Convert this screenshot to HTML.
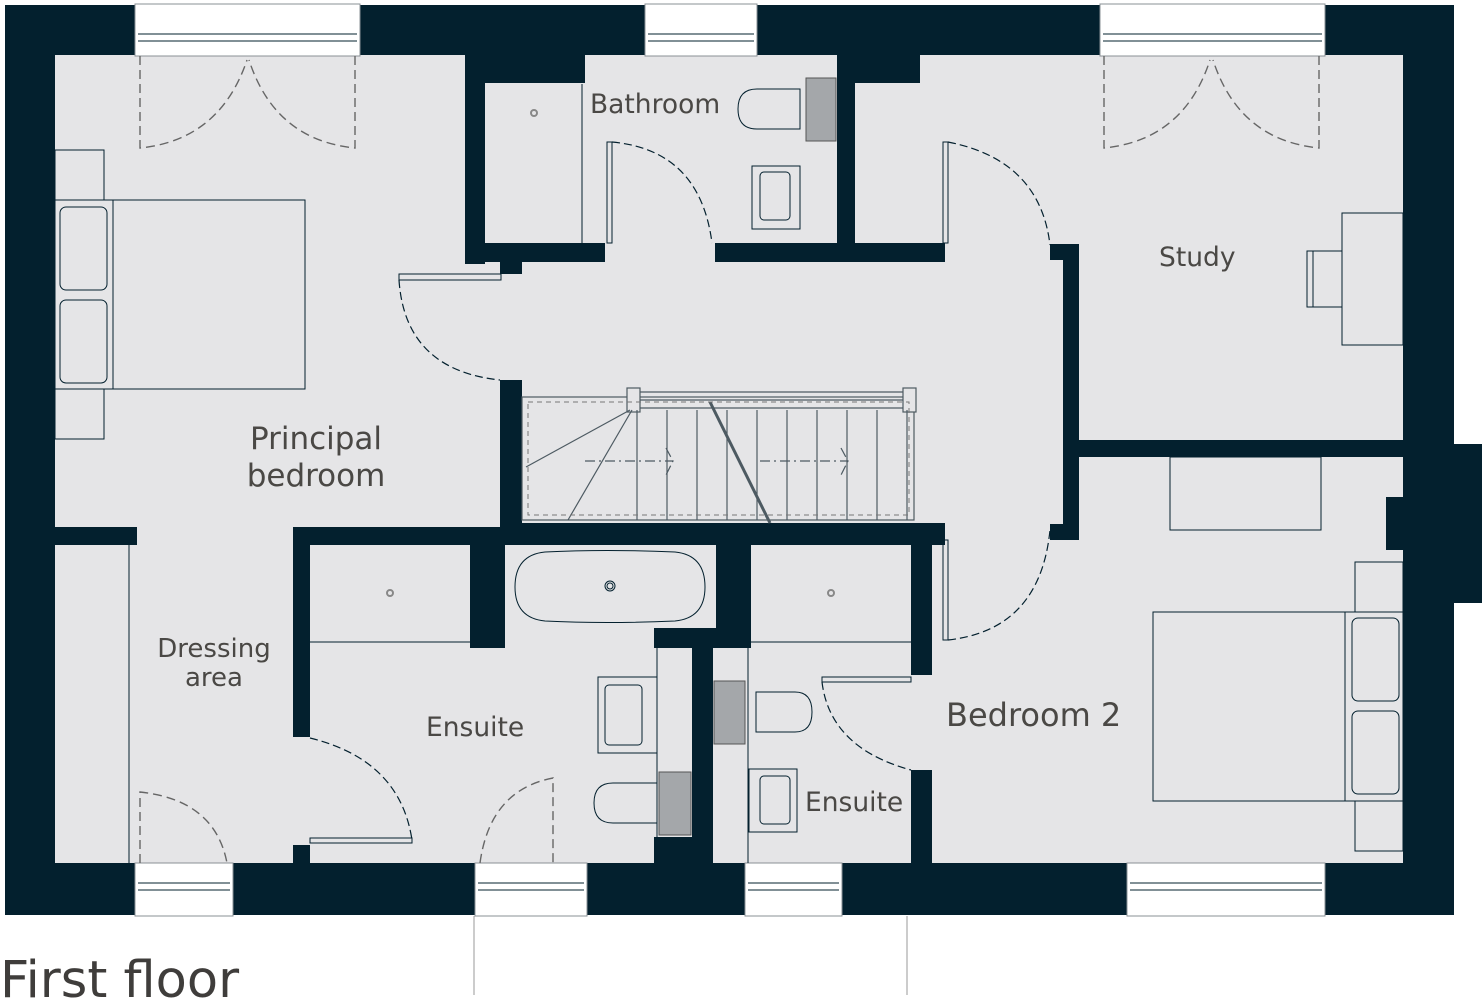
<!DOCTYPE html>
<html><head><meta charset="utf-8"><style>
html,body{margin:0;padding:0;background:#fff;}
svg{display:block}
text{font-family:"DejaVu Sans","Liberation Sans",sans-serif;fill:#4a4845;}
</style></head><body>
<svg width="1484" height="1002" viewBox="0 0 1484 1002" xmlns="http://www.w3.org/2000/svg">
<rect x="5" y="5" width="1449" height="910" fill="#03202e"/>
<rect x="1440" y="444" width="42" height="159" fill="#03202e"/>
<rect x="55" y="55" width="1348" height="808" fill="#e5e5e7"/>
<g fill="#03202e">
<rect x="465" y="55" width="120" height="28"/>
<rect x="465" y="55" width="20" height="209"/>
<rect x="465" y="243" width="140" height="19"/>
<rect x="500" y="262" width="22" height="12"/>
<rect x="837" y="55" width="18" height="207"/>
<rect x="855" y="55" width="65" height="28"/>
<rect x="715" y="243" width="230" height="19"/>
<rect x="1063" y="244" width="16" height="296"/>
<rect x="1050" y="244" width="14" height="16"/>
<rect x="1050" y="524" width="14" height="16"/>
<rect x="1079" y="440" width="324" height="17"/>
<rect x="1386" y="497" width="17" height="53"/>
<rect x="500" y="380" width="22" height="145"/>
<rect x="500" y="523" width="445" height="22"/>
<rect x="293" y="527" width="207" height="18"/>
<rect x="55" y="527" width="82" height="18"/>
<rect x="293" y="527" width="17" height="210"/>
<rect x="293" y="845" width="17" height="18"/>
<rect x="470" y="545" width="35" height="103"/>
<rect x="654" y="628" width="97" height="20"/>
<rect x="716" y="545" width="35" height="103"/>
<rect x="692" y="648" width="21" height="215"/>
<rect x="654" y="837" width="38" height="26"/>
<rect x="911" y="545" width="21" height="130"/>
<rect x="911" y="770" width="21" height="93"/>
</g>
<g fill="#fff" stroke="#8a9096" stroke-width="1">
<rect x="135" y="4" width="225" height="52"/>
<rect x="645" y="4" width="112" height="52"/>
<rect x="1100" y="4" width="225" height="52"/>
<rect x="135" y="863" width="98" height="53"/>
<rect x="475" y="863" width="112" height="53"/>
<rect x="745" y="863" width="97" height="53"/>
<rect x="1127" y="863" width="198" height="53"/>
</g>
<g stroke="#03202e" stroke-width="1" fill="none">
<line x1="138" y1="34" x2="357" y2="34"/><line x1="138" y1="41" x2="357" y2="41"/>
<line x1="648" y1="34" x2="754" y2="34"/><line x1="648" y1="41" x2="754" y2="41"/>
<line x1="1103" y1="34" x2="1322" y2="34"/><line x1="1103" y1="41" x2="1322" y2="41"/>
<line x1="138" y1="883" x2="230" y2="883"/><line x1="138" y1="890" x2="230" y2="890"/>
<line x1="478" y1="883" x2="584" y2="883"/><line x1="478" y1="890" x2="584" y2="890"/>
<line x1="748" y1="883" x2="839" y2="883"/><line x1="748" y1="890" x2="839" y2="890"/>
<line x1="1130" y1="883" x2="1322" y2="883"/><line x1="1130" y1="890" x2="1322" y2="890"/>
</g>
<line x1="474" y1="916" x2="474" y2="995" stroke="#999" stroke-width="1"/>
<line x1="907" y1="916" x2="907" y2="995" stroke="#999" stroke-width="1"/>
<g stroke="#666" stroke-width="1.4" fill="none" stroke-dasharray="9,5">
<path d="M140 56 V148 Q220 140 247 60"/>
<path d="M355 56 V148 Q275 140 249 60"/>
<path d="M1104 56 V148 Q1184 140 1210 60"/>
<path d="M1319 56 V148 Q1239 140 1213 60"/>
<path d="M140 863 V792 Q215 800 227 863"/>
<path d="M480 863 Q490 790 553 778 V863"/>
</g>
<g stroke="#03202e" stroke-width="1.2" fill="none" stroke-dasharray="8,4">
<path d="M399 280 Q405 370 500 380"/>
<path d="M612 142 Q700 150 712 243"/>
<path d="M948 142 Q1040 160 1050 245"/>
<path d="M948 640 Q1040 630 1050 530"/>
<path d="M310 738 Q400 760 412 840"/>
<path d="M822 682 Q830 748 911 770"/>
</g>
<g stroke="#03202e" stroke-width="1" fill="none">
<rect x="399" y="274" width="102" height="6"/>
<rect x="607" y="142" width="5" height="101"/>
<rect x="943" y="142" width="5" height="101"/>
<rect x="943" y="540" width="5" height="100"/>
<rect x="310" y="838" width="102" height="5"/>
<rect x="822" y="677" width="89" height="5"/>
<line x1="582" y1="84" x2="582" y2="243"/>
<rect x="55" y="200" width="250" height="189"/>
<line x1="113" y1="200" x2="113" y2="389"/>
<rect x="60" y="207" width="47" height="83" rx="6"/>
<rect x="60" y="300" width="47" height="83" rx="6"/>
<rect x="55" y="150" width="49" height="50"/>
<rect x="55" y="389" width="49" height="50"/>
<rect x="1153" y="612" width="250" height="189"/>
<line x1="1345" y1="612" x2="1345" y2="801"/>
<rect x="1352" y="618" width="47" height="83" rx="6"/>
<rect x="1352" y="711" width="47" height="83" rx="6"/>
<rect x="1355" y="562" width="48" height="50"/>
<rect x="1355" y="801" width="48" height="50"/>
<rect x="1342" y="213" width="61" height="132"/>
<rect x="1307" y="251" width="35" height="56"/>
<line x1="1313" y1="251" x2="1313" y2="307"/>
<rect x="1170" y="457" width="151" height="73"/>
<line x1="129" y1="545" x2="129" y2="863"/>
<line x1="310" y1="642" x2="470" y2="642"/>
<line x1="751" y1="642" x2="911" y2="642"/>
<line x1="657" y1="648" x2="657" y2="837"/>
<line x1="748" y1="648" x2="748" y2="863"/>
<path d="M545 552 Q605 549 675 552 Q705 555 705 587 Q705 618 675 621 Q605 624 545 621 Q515 618 515 587 Q515 555 545 552Z"/>
<circle cx="610" cy="586" r="5"/><circle cx="610" cy="586" r="3"/>
<rect x="598" y="677" width="59" height="76"/><rect x="605" y="685" width="37" height="60" rx="4"/>
<rect x="749" y="769" width="48" height="63"/><rect x="760" y="776" width="30" height="48" rx="4"/>
<rect x="752" y="166" width="48" height="63"/><rect x="760" y="172" width="30" height="48" rx="4"/>
<path d="M657 783 H613 Q594 783 594 803 Q594 823 613 823 H657Z"/>
<path d="M756 692 H795 Q812 692 812 712 Q812 732 795 732 H756Z"/>
<path d="M800 89 H757 Q738 89 738 109 Q738 129 757 129 H800Z"/>
</g>
<g fill="#a4a7aa" stroke="#555" stroke-width="1">
<rect x="659" y="772" width="32" height="63"/>
<rect x="714" y="681" width="31" height="63"/>
<rect x="806" y="78" width="30" height="63"/>
</g>
<g fill="none" stroke="#888" stroke-width="2">
<circle cx="534" cy="113" r="3"/><circle cx="390" cy="593" r="3"/><circle cx="831" cy="593" r="3"/>
</g>
<g stroke="#4d5a62" stroke-width="1.2" fill="none">
<rect x="522" y="397" width="392" height="123"/>
<line x1="627" y1="392" x2="916" y2="392"/><line x1="627" y1="400" x2="916" y2="400"/><line x1="627" y1="408" x2="916" y2="408"/>
<rect x="627" y="388" width="13" height="24" fill="#e5e5e7"/>
<rect x="903" y="388" width="13" height="24" fill="#e5e5e7"/>
<line x1="637" y1="410" x2="637" y2="520"/><line x1="667" y1="410" x2="667" y2="520"/>
<line x1="697" y1="410" x2="697" y2="520"/><line x1="727" y1="410" x2="727" y2="520"/>
<line x1="757" y1="410" x2="757" y2="520"/><line x1="787" y1="410" x2="787" y2="520"/>
<line x1="817" y1="410" x2="817" y2="520"/><line x1="847" y1="410" x2="847" y2="520"/>
<line x1="877" y1="410" x2="877" y2="520"/><line x1="907" y1="410" x2="907" y2="520"/>
<line x1="526" y1="467" x2="630" y2="410"/><line x1="568" y1="520" x2="632" y2="410"/>
<line x1="710" y1="402" x2="770" y2="523" stroke-width="3"/>
<path d="M585 461 H673 M666 448 L673 461 L666 475" stroke-dasharray="10,4,2,4"/>
<path d="M760 461 H848 M841 448 L848 461 L841 475" stroke-dasharray="10,4,2,4"/>
</g>
<g stroke="#777" stroke-width="1" fill="none" stroke-dasharray="5,4">
<rect x="528" y="402" width="381" height="113"/>
</g>
<text x="590" y="113" font-size="26.5">Bathroom</text>
<text x="1159" y="266" font-size="26.5">Study</text>
<text x="316" y="449" font-size="31" text-anchor="middle">Principal</text>
<text x="316" y="486" font-size="31" text-anchor="middle">bedroom</text>
<text x="214" y="657" font-size="26" text-anchor="middle">Dressing</text>
<text x="214" y="686" font-size="26" text-anchor="middle">area</text>
<text x="426" y="736" font-size="26.5">Ensuite</text>
<text x="805" y="811" font-size="26.5">Ensuite</text>
<text x="946" y="726" font-size="32">Bedroom 2</text>
<text x="0" y="997" font-size="51" style="fill:#3f3d3b">First floor</text>
</svg>
</body></html>
